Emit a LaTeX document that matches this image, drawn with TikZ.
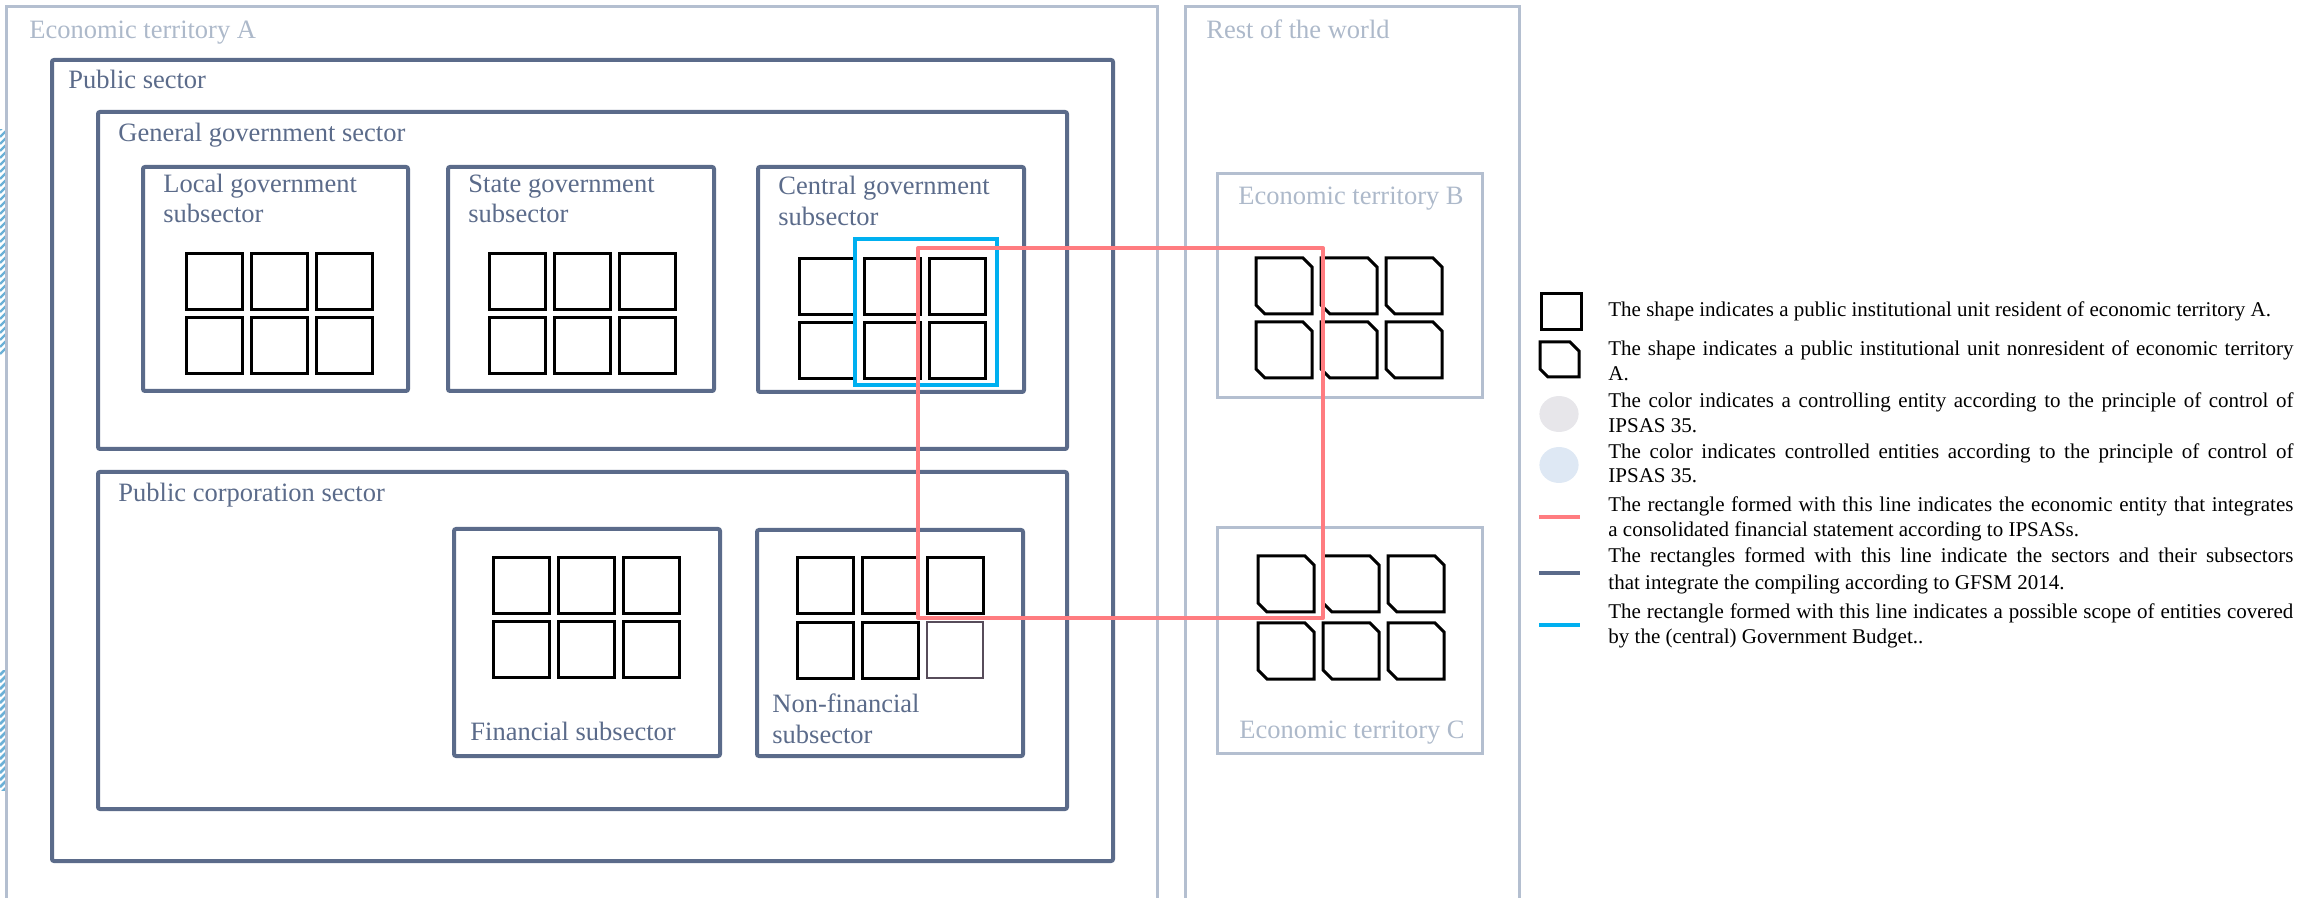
\documentclass[tikz,border=0pt]{standalone}
\usepackage{fontspec}
\setmainfont{Liberation Serif}
\definecolor{slate}{HTML}{5B6B8A}
\definecolor{pale}{HTML}{B4BFD0}
\definecolor{paletext}{HTML}{ADB9CA}
\definecolor{redline}{HTML}{FF7C80}
\definecolor{cyanline}{HTML}{00B0F0}
\definecolor{ctrlgray}{HTML}{E7E6EA}
\definecolor{ctrlblue}{HTML}{DEE8F4}
\definecolor{swirl}{HTML}{6BB0D6}
\definecolor{dimunit}{HTML}{574C5A}
\newcommand{\legline}[1]{\makebox[342.5pt][s]{#1}}
\begin{document}
\begin{tikzpicture}[x=0.5pt,y=-0.5pt,
  palebox/.style={draw=pale, line width=1.5pt},
  sectbox/.style={draw=slate, line width=2pt, rounded corners=1pt},
  unitbox/.style={draw=black, line width=1.5pt, minimum width=28pt, minimum height=28pt, inner sep=0pt, anchor=north west},
  nonres/.style={draw=black, line width=1.5pt, line join=miter},
  lab/.style={font=\fontsize{13.25pt}{15pt}\selectfont, text=slate, inner sep=0pt, anchor=base west},
  palelab/.style={font=\fontsize{13.25pt}{15pt}\selectfont, text=paletext, inner sep=0pt, anchor=base west},
  legtext/.style={font=\fontsize{10.5pt}{12.5pt}\selectfont, text=black, inner sep=0pt, anchor=base west},
  legmark/.style={line width=2pt},
]
\useasboundingbox (0,0) rectangle (2304,898);

% swirl fragments at left edge
\begin{scope}
  \clip (0,130) rectangle (5,360);
  \foreach \k in {0,...,32} { \draw[swirl, line width=1.2pt] (0,130+7*\k) -- (6,124+7*\k); }
\end{scope}
\begin{scope}
  \clip (0,670) rectangle (5,790);
  \foreach \k in {0,...,18} { \draw[swirl, line width=1.4pt] (0,668+7*\k) -- (6,662+7*\k); }
\end{scope}

% outer territories
\draw[palebox] (6,905) -- (6,7) -- (1157,7) -- (1157,905);
\draw[palebox] (1185,905) -- (1185,7) -- (1519,7) -- (1519,905);
\node[palelab] (tA) at (29,39) {Economic territory A};
\node[palelab] (tW) at (1206,39) {Rest of the world};

% sector boxes
\draw[sectbox] (52,60) rectangle (1113,861);
\node[lab] (lPS) at (68,89) {Public sector};
\draw[sectbox] (98,112) rectangle (1067,449);
\node[lab] (lGG) at (118,142) {General government sector};
\draw[sectbox] (98,472) rectangle (1067,809);
\node[lab] (lPC) at (118,502) {Public corporation sector};

\draw[sectbox] (143,167) rectangle (408,391);
\node[lab] (lLG1) at (163,193) {Local government};
\node[lab] (lLG2) at (163,223) {subsector};
\draw[sectbox] (448,167) rectangle (714,391);
\node[lab] (lSG1) at (468,193) {State government};
\node[lab] (lSG2) at (468,223) {subsector};
\draw[sectbox] (758,167) rectangle (1024,392);
\node[lab] (lCG1) at (778,195) {Central government};
\node[lab] (lCG2) at (778,226) {subsector};

\draw[sectbox] (454,529) rectangle (720,756);
\node[lab] (lFS) at (470,740) {Financial subsector};
\draw[sectbox] (757,530) rectangle (1023,756);
\node[lab] (lNF1) at (772,712) {Non-financial};
\node[lab] (lNF2) at (772,743) {subsector};

% resident units
\foreach \gx/\gy/\g in {185/252/L, 488/252/S, 798/257/C, 492/556/F} {
  \foreach \i in {0,1,2} { \foreach \j in {0,1} {
    \node[unitbox] (u\g\i\j) at (\gx+65*\i,\gy+64*\j) {};
  }}
}
\foreach \i/\j in {0/0,1/0,2/0,0/1,1/1} {
  \node[unitbox] (uN\i\j) at (796+65*\i,556+65*\j) {};
}
\node[unitbox, draw=dimunit, line width=1.2pt] (uN21) at (796+130,556+65) {};

% economic territories B and C
\draw[palebox] (1217,174) rectangle (1482,398);
\node[palelab] (tB) at (1238,205) {Economic territory B};
\draw[palebox] (1217,528) rectangle (1482,753);
\node[palelab] (tC) at (1239,738) {Economic territory C};

% nonresident units
\foreach \gx/\gy/\py in {1256/258/64, 1258/556/67} {
  \foreach \i in {0,1,2} { \foreach \j in {0,1} {
    \draw[nonres] ({\gx+65*\i},{\gy+\py*\j}) -- ++(47,0) -- ++(9,9) -- ++(0,47) -- ++(-47,0) -- ++(-9,-9) -- cycle;
  }}
}

% budget scope and consolidated entity
\draw[cyanline, line width=2pt] (855,239) rectangle (997,385);
\coordinate (r1) at (918,248);
\coordinate (r2) at (1323,248);
\coordinate (r3) at (1323,618);
\coordinate (r4) at (918,618);
\draw[redline, line width=2pt, line join=round] (r1) -- (r2) -- (r3) -- (r4) -- cycle;

% legend
\node[draw=black, line width=1.5pt, minimum width=20pt, minimum height=18pt, inner sep=0pt, anchor=north west] (k1) at (1540,292) {};
\draw[nonres] (1540,342) coordinate (k2) -- ++(30,0) -- ++(9,9) -- ++(0,26) -- ++(-31,0) -- ++(-8,-8) -- cycle;
\fill[ctrlgray] (1559,414) ellipse (9.8pt and 9pt);
\coordinate (k3) at (1559,414);
\fill[ctrlblue] (1559,465) ellipse (9.8pt and 9pt);
\coordinate (k4) at (1559,465);
\coordinate (k5a) at (1539,517); \coordinate (k5b) at (1580,517);
\draw[redline, legmark] (k5a) -- (k5b);
\coordinate (k6a) at (1539,573); \coordinate (k6b) at (1580,573);
\draw[slate, legmark] (k6a) -- (k6b);
\coordinate (k7a) at (1539,625); \coordinate (k7b) at (1580,625);
\draw[cyanline, legmark] (k7a) -- (k7b);

\node[legtext] (d1) at (1608,317) {The shape indicates a public institutional unit resident of economic territory A.};
\node[legtext] (d2a) at (1608,356) {\legline{The shape indicates a public institutional unit nonresident of economic territory}};
\node[legtext] (d2b) at (1608,381) {A.};
\node[legtext] (d3a) at (1608,408) {\legline{The color indicates a controlling entity according to the principle of control of}};
\node[legtext] (d3b) at (1608,433) {IPSAS 35.};
\node[legtext] (d4a) at (1608,459) {\legline{The color indicates controlled entities according to the principle of control of}};
\node[legtext] (d4b) at (1608,483) {IPSAS 35.};
\node[legtext] (d5a) at (1608,512) {\legline{The rectangle formed with this line indicates the economic entity that integrates}};
\node[legtext] (d5b) at (1608,537) {a consolidated financial statement according to IPSASs.};
\node[legtext] (d6a) at (1608,563) {\legline{The rectangles formed with this line indicate the sectors and their subsectors}};
\node[legtext] (d6b) at (1608,589) {that integrate the compiling according to GFSM 2014.};
\node[legtext] (d7a) at (1608,618) {\legline{The rectangle formed with this line indicates a possible scope of entities covered}};
\node[legtext] (d7b) at (1608,643) {by the (central) Government Budget..};
\end{tikzpicture}
\end{document}
